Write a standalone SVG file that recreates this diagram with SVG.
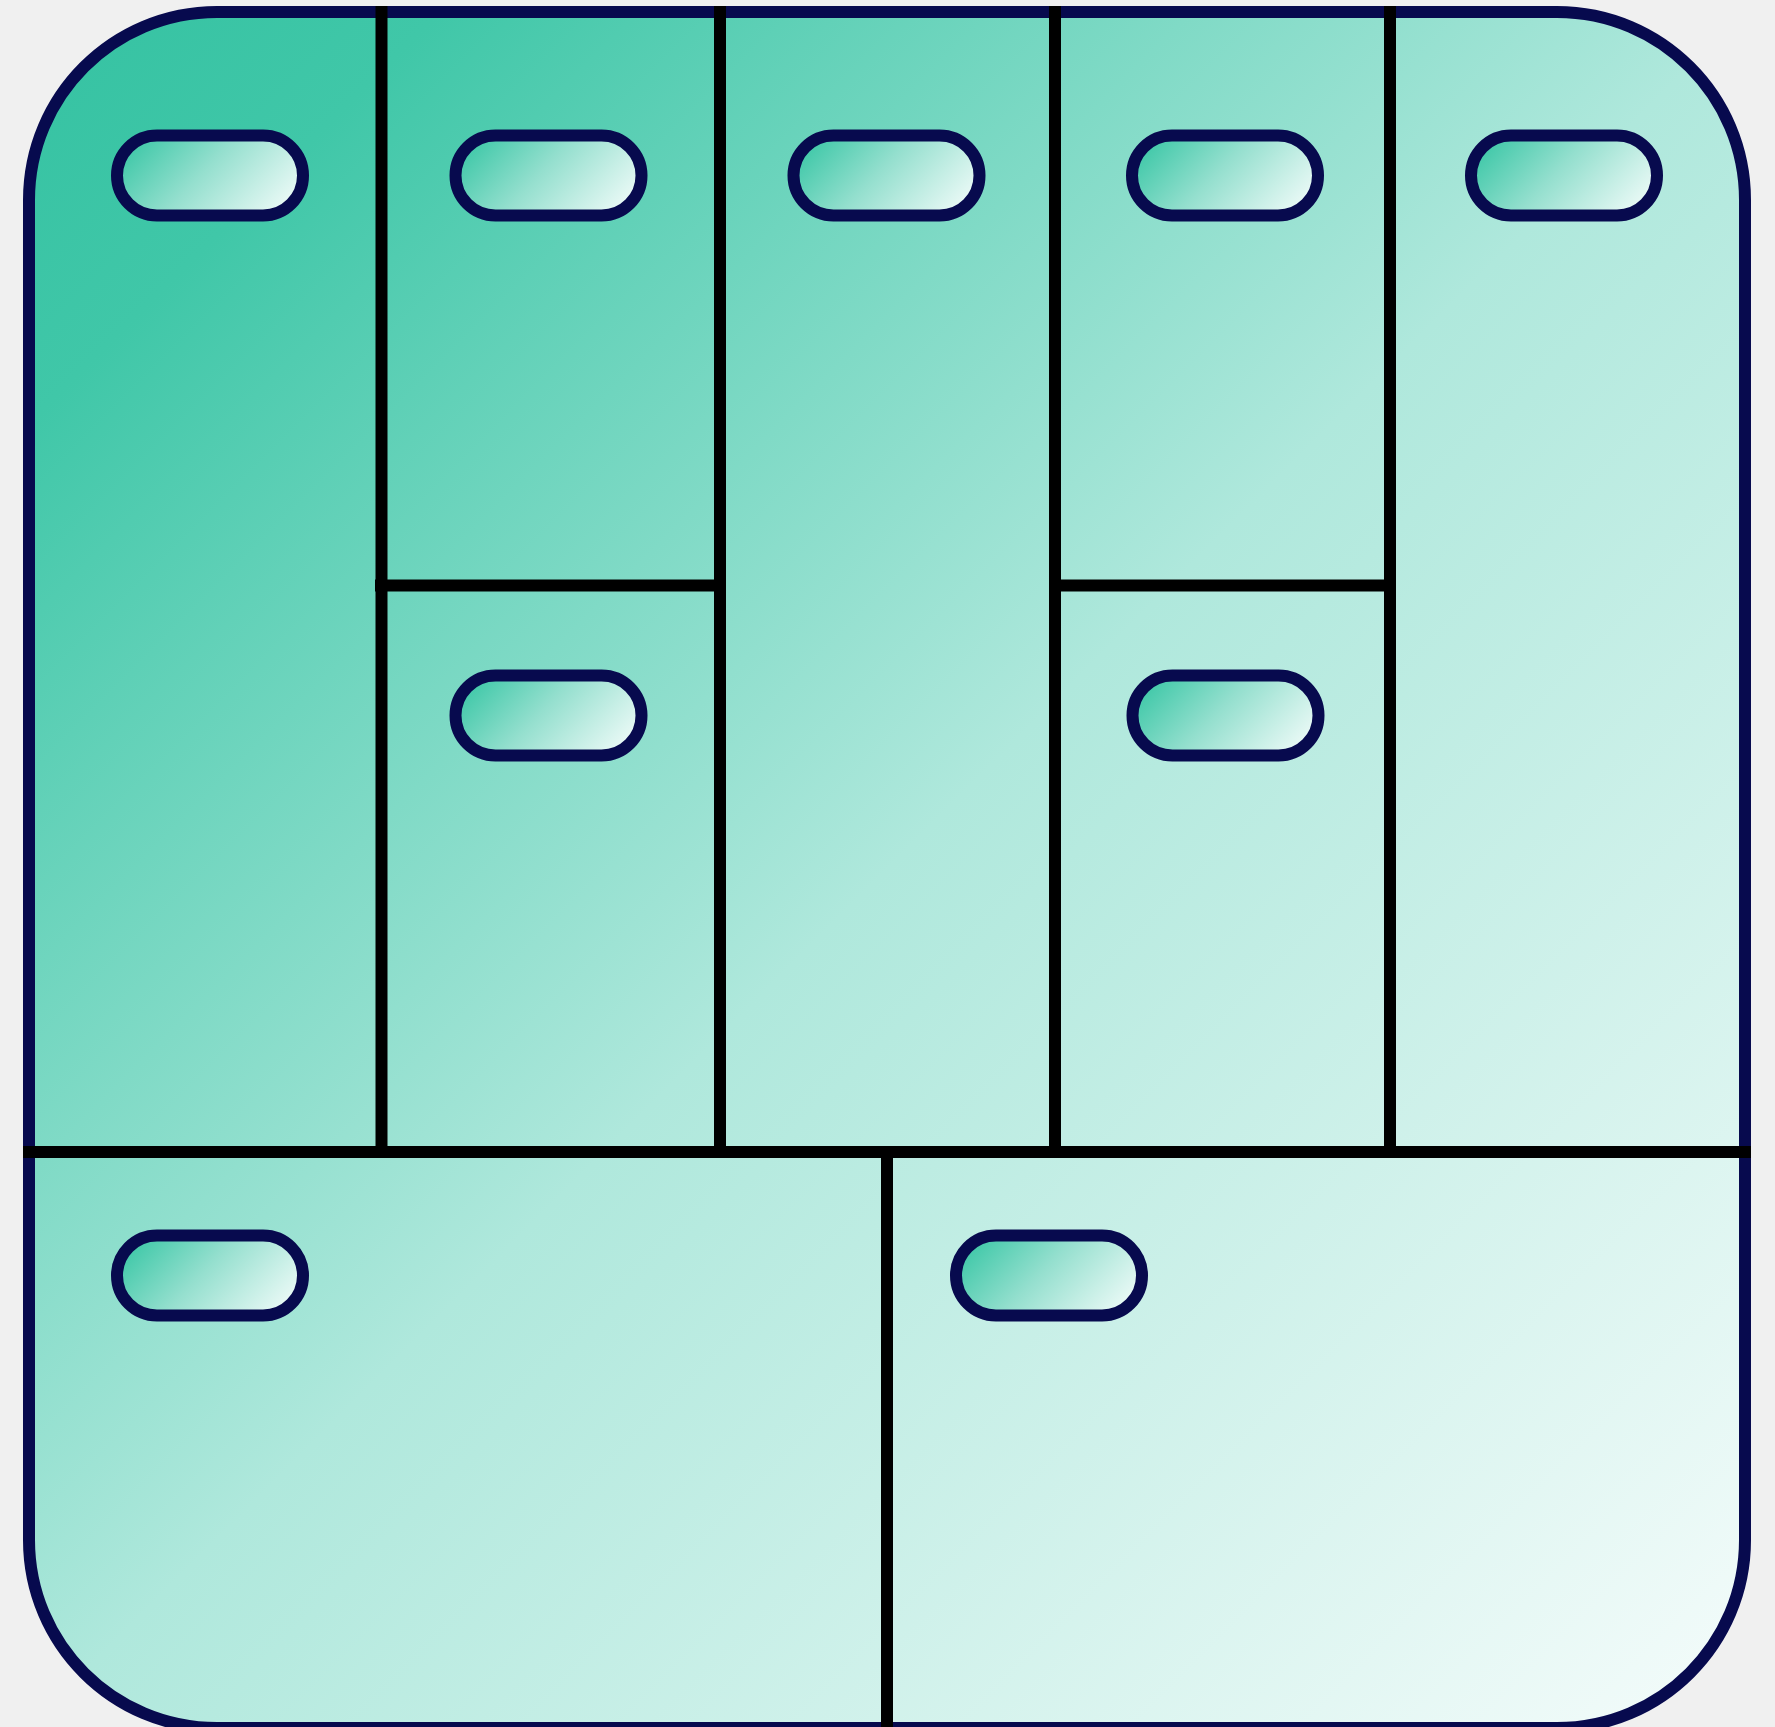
<svg xmlns="http://www.w3.org/2000/svg" width="1775" height="1727" viewBox="0 0 1775 1727">
  <defs>
    <linearGradient id="bg" x1="0" y1="0" x2="1" y2="1">
      <stop offset="0" stop-color="#35c2a2"/>
      <stop offset="0.12" stop-color="#40c7a8"/>
      <stop offset="0.5" stop-color="#afe8dc"/>
      <stop offset="1" stop-color="#f5fcfb"/>
    </linearGradient>
    <linearGradient id="pill" x1="0" y1="0.3" x2="1" y2="0.7">
      <stop offset="0" stop-color="#3fc8a8"/>
      <stop offset="0.45" stop-color="#94dfce"/>
      <stop offset="1" stop-color="#ecfaf7"/>
    </linearGradient>
    <path id="pillShape" d="M40 0 H146 C168.09 0 186 17.91 186 40 C186 62.09 168.09 80 146 80 H40 C17.91 80 0 62.09 0 40 C0 17.91 17.91 0 40 0 Z"/>
  </defs>
  <style>
    .frame { fill: url(#bg); stroke: #070a4e; stroke-width: 12; }
    .div { stroke: #000000; stroke-width: 12; fill: none; stroke-linecap: butt; }
    .pill { fill: url(#pill); stroke: #070a4e; stroke-width: 12; }
  </style>
  <rect width="1775" height="1727" fill="#f0f0f0"/>
  <g id="canvas">
    <path class="frame" d="M217 12 H1557 C1660.8 12 1745 96.2 1745 200 V1540 C1745 1643.8 1660.8 1728 1557 1728 H217 C113.2 1728 29 1643.8 29 1540 V200 C29 96.2 113.2 12 217 12 Z"/>
  </g>
  <g id="connectors">
    <line class="div" x1="381.5" y1="6" x2="381.5" y2="1152"/>
    <line class="div" x1="720" y1="6" x2="720" y2="1152"/>
    <line class="div" x1="1055" y1="6" x2="1055" y2="1152"/>
    <line class="div" x1="1390" y1="6" x2="1390" y2="1152"/>
    <line class="div" x1="375" y1="585.5" x2="720" y2="585.5"/>
    <line class="div" x1="1055" y1="585.5" x2="1390" y2="585.5"/>
    <line class="div" x1="23" y1="1152" x2="1751" y2="1152"/>
    <line class="div" x1="887" y1="1152" x2="887" y2="1727"/>
  </g>
  <g id="pill-1"><use class="pill" href="#pillShape" x="117" y="135.5"/></g>
  <g id="pill-2"><use class="pill" href="#pillShape" x="455.5" y="135.5"/></g>
  <g id="pill-3"><use class="pill" href="#pillShape" x="793.5" y="135.5"/></g>
  <g id="pill-4"><use class="pill" href="#pillShape" x="1132" y="135.5"/></g>
  <g id="pill-5"><use class="pill" href="#pillShape" x="1471" y="135.5"/></g>
  <g id="pill-6"><use class="pill" href="#pillShape" x="455.5" y="675.5"/></g>
  <g id="pill-7"><use class="pill" href="#pillShape" x="1132.5" y="675.5"/></g>
  <g id="pill-8"><use class="pill" href="#pillShape" x="117" y="1235.5"/></g>
  <g id="pill-9"><use class="pill" href="#pillShape" x="956" y="1235.5"/></g>
</svg>
